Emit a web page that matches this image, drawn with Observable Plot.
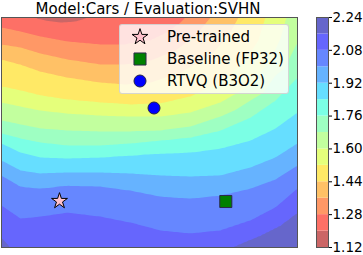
<!DOCTYPE html>
<html><head><meta charset="utf-8">
<script src="https://cdn.jsdelivr.net/npm/d3@7"></script>
<script src="https://cdn.jsdelivr.net/npm/@observablehq/plot@0.6"></script>
<style>
html,body{margin:0;padding:0;background:#fff;}
#root{position:relative;width:363px;height:255px;font-family:"DejaVu Sans",sans-serif;overflow:hidden;}
.abs{position:absolute;top:0;}
#title{position:absolute;left:0;width:296px;top:1.5px;text-align:center;font-size:15px;line-height:15px;color:#000;white-space:nowrap;}
#legend{position:absolute;left:119px;top:24px;width:170px;height:70px;box-sizing:border-box;background:rgba(255,255,255,0.8);border:1px solid rgba(204,204,204,0.8);border-radius:3px;}
</style></head><body>
<div id="root">
  <div id="main" class="abs" style="left:0"></div>
  <div id="cbar" class="abs" style="left:300px"></div>
  <div id="title"></div>
  <div id="legend"></div>
</div>
<script>
// ---- data ----
const titleText = "Model:Cars / Evaluation:SVHN";
const levels = [1.12, 1.20, 1.28, 1.36, 1.44, 1.52, 1.60, 1.68, 1.76, 1.84, 1.92, 2.00, 2.08, 2.16];
const levelTop = 2.24;
const cbTicks = [1.12, 1.28, 1.44, 1.60, 1.76, 1.92, 2.08, 2.24];

// contour lines traced on the picture (x: 0..296 left->right, y: 0..230 bottom->top)
const isoLevels = [1.20, 1.28, 1.36, 1.44, 1.52, 1.60, 1.68, 1.76, 1.84, 1.92, 2.00, 2.08, 2.16];
const iso120 = [[31,230],[44,227],[59,225],[74,226],[87,230]];
const iso128 = [[0,220],[19,216],[39,211],[66,206],[99,203],[124,203],[149,207],[164,214],[177,223],[184,230]];
const iso136 = [[0,203],[19,200],[39,194],[66,188],[99,183],[124,183],[149,187],[174,197],[194,212],[209,230]];
const iso144 = [[0,188],[19,183],[39,176],[66,170],[99,165],[124,163],[149,165],[179,175],[209,192],[227,212],[237,230]];
const iso152 = [[0,161],[19,157],[39,152],[66,148],[99,145],[129,143],[159,144],[189,151],[219,165],[244,187],[257,207],[264,230]];
const iso160 = [[0,145],[19,141],[39,137],[66,134],[99,132],[129,131],[159,131],[189,135],[219,145],[249,162],[269,187],[279,209],[285,230]];
const iso168 = [[0,127],[19,123],[39,119],[66,117],[99,116],[129,116],[159,117],[189,121],[219,131],[249,147],[274,172],[296,205]];
const iso176 = [[0,114],[19,109],[39,105],[66,102],[99,102],[129,104],[159,107],[189,110],[219,117],[249,130],[274,147],[296,170]];
const iso184 = [[0,104],[19,95],[39,90],[66,89],[99,90],[129,92],[159,94],[189,95],[219,99],[249,107],[274,119],[296,135]];
const iso192 = [[0,87],[19,77],[39,74],[66,75],[99,75],[129,74],[159,72],[189,71],[219,72],[249,80],[274,90],[296,104]];
const iso200 = [[0,72],[19,61],[39,59],[66,62],[99,61],[129,57],[159,51],[189,49],[219,52],[249,59],[274,68],[296,82]];
const iso208 = [[0,42],[19,29],[39,31],[66,35],[99,31],[129,25],[159,17],[189,14],[219,17],[249,27],[274,40],[296,59]];
const iso216 = [[0,10],[9,0],[230,0],[259,12],[279,22],[296,35]];
const isoLines = [iso120, iso128, iso136, iso144, iso152, iso160, iso168, iso176, iso184, iso192, iso200, iso208, iso216];

// values read along the frame edges
const edgeX = [0, 59, 119, 149, 296, 0, 39, 99, 159, 189, 296];
const edgeY = [230, 230, 230, 230, 230, 0, 0, 0, 0, 0, 0];
const edgeV = [1.235, 1.17, 1.23, 1.25, 1.64, 2.175, 2.14, 2.13, 2.12, 2.125, 2.205];

// marked models
const seriesNames = ["Pre-trained", "Baseline (FP32)", "RTVQ (B3O2)"];
const pointX = [58, 224.3, 152.5];
const pointY = [46.5, 46, 139.5];

// ---- styles ----
const bandColors = ["#cb6666","#fd7066","#ff9866","#ffc166","#ffe966","#e5ff7b","#c2ff9e",
                    "#9effc2","#7bffe5","#66deff","#66b3ff","#6687ff","#6666fd","#6666cb"];
const markerStyle = [
  {symbol: "star", fill: "#ffc0cb", stroke: "#000", r: 5.0},
  {symbol: "square", fill: "#008000", stroke: "#2a2a4a", r: 6.8},
  {symbol: "circle", fill: "#0000ff", stroke: "#22224a", r: 6.0}
];

// ---- tables ----
const samples = [];
isoLines.forEach((pts, i) => pts.forEach(([x, y]) => samples.push({x, y, v: isoLevels[i]})));
edgeX.forEach((x, i) => samples.push({x, y: edgeY[i], v: edgeV[i]}));
const points = seriesNames.map((name, i) => ({name, x: pointX[i], y: pointY[i]}));
const bands = levels.map((lo, i) => ({lo, hi: i + 1 < levels.length ? levels[i + 1] : levelTop}));

const colorScale = {type: "ordinal", domain: levels, range: bandColors};
const font = {fontFamily: "DejaVu Sans", fontSize: "13.5px", background: "transparent", overflow: "visible"};

const main = Plot.plot({
  width: 300, height: 255,
  marginLeft: 1, marginRight: 3, marginTop: 17, marginBottom: 8,
  x: {domain: [0, 296], axis: null},
  y: {domain: [0, 230], axis: null},
  color: colorScale,
  style: font,
  marks: [
    Plot.frame({fill: bandColors[0]}),
    Plot.contour(samples, {x: "x", y: "y", fill: "v", interpolate: "barycentric",
      thresholds: levels, x1: 0, y1: 0, x2: 296, y2: 230}),
    Plot.frame({stroke: "#555", strokeWidth: 1}),
    ...points.map((p, i) => Plot.dot([p], {x: "x", y: "y", symbol: markerStyle[i].symbol,
      fill: markerStyle[i].fill, stroke: markerStyle[i].stroke, r: markerStyle[i].r, strokeWidth: 1}))
  ]
});
document.getElementById("main").appendChild(main);

const cbar = Plot.plot({
  width: 63, height: 255,
  marginLeft: 16, marginRight: 35, marginTop: 17, marginBottom: 8,
  x: {axis: null},
  y: {domain: [1.12, levelTop], axis: null},
  color: colorScale,
  style: font,
  marks: [
    Plot.barY(bands, {y1: "lo", y2: "hi", fill: "lo"}),
    Plot.frame({stroke: "#555", strokeWidth: 1}),
    Plot.axisY({anchor: "right", ticks: cbTicks, tickFormat: d3.format(".2f"), tickSize: 3, tickPadding: 1, label: null, fontSize: 13.5})
  ]
});
document.getElementById("cbar").appendChild(cbar);

document.getElementById("title").textContent = titleText;

// legend
const lg = d3.select("#legend").append("svg").attr("width", 168).attr("height", 68)
  .style("position", "absolute").style("left", 0).style("top", 0);
const symMap = {star: d3.symbolStar, square: d3.symbolSquare, circle: d3.symbolCircle};
seriesNames.forEach((name, i) => {
  const cy = 12 + i * 22;
  const m = markerStyle[i];
  lg.append("path").attr("d", d3.symbol(symMap[m.symbol], Math.PI * m.r * m.r)())
    .attr("transform", `translate(20,${cy})`).attr("fill", m.fill).attr("stroke", m.stroke);
  lg.append("text").attr("x", 47).attr("y", cy + 5.3).attr("font-size", 15)
    .attr("font-family", "DejaVu Sans").attr("fill", "#000").text(name);
});
</script>
</body></html>
